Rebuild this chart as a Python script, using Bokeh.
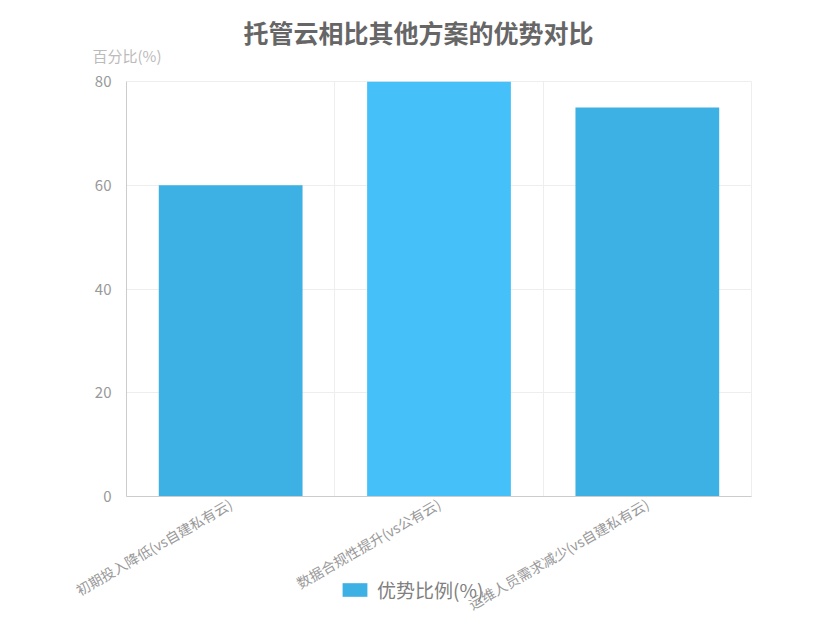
from bokeh.plotting import figure
from bokeh.layouts import column
from bokeh.models import ColumnDataSource, FixedTicker, Legend, LegendItem, Title
from bokeh.embed import file_html
from bokeh.resources import INLINE
import math

# data
categories = ["初期投入降低(vs自建私有云)", "数据合规性提升(vs公有云)", "运维人员需求减少(vs自建私有云)"]
values = [60, 80, 75]
series_name = "优势比例(%)"
title_text = "托管云相比其他方案的优势对比"
y_label = "百分比(%)"

bar_colors = ["#3db0e4", "#45c0f8", "#3db0e4"]
legend_color = "#3db0e4"
FONT = "Noto Sans CJK SC"

src = ColumnDataSource(dict(cat=categories, val=values, color=bar_colors))

p = figure(width=835, height=625, x_range=categories, y_range=(0, 80),
           output_backend="svg", toolbar_location=None, title=None,
           min_border_left=126, min_border_right=84,
           min_border_top=81, min_border_bottom=129)

r = p.vbar(x="cat", top="val", width=0.69, fill_color="color",
           line_color=None, source=src)

# y-axis name above the axis, then the main title
p.add_layout(Title(text=y_label, align="left", offset=-34, standoff=32,
                   text_font=FONT, text_font_size="15px", text_color="#bbbbbb",
                   text_font_style="normal"), "above")
p.add_layout(Title(text=title_text, align="left", offset=117, standoff=-46,
                   text_font=FONT, text_font_size="25px", text_color="#666666",
                   text_font_style="bold"), "above")

p.yaxis.ticker = FixedTicker(ticks=[0, 20, 40, 60, 80])
p.xgrid.ticker = FixedTicker(ticks=[1, 2])
p.xgrid.grid_line_color = "#eeeeee"
p.ygrid.grid_line_color = "#eeeeee"
p.outline_line_color = "#eeeeee"

for ax in (p.xaxis, p.yaxis):
    ax.major_label_text_font = FONT
    ax.major_label_text_color = "#999999"
    ax.axis_line_color = "#cccccc"
    ax.minor_tick_line_color = None

p.yaxis.major_label_text_font_size = "15px"
p.yaxis.major_tick_line_color = None
p.yaxis.major_label_standoff = 9
p.xaxis.major_tick_line_color = None
p.xaxis.major_label_text_font_size = "14px"
p.xaxis.major_label_orientation = math.pi / 6
p.xaxis.major_label_standoff = 0

# legend: a transparent strip pulled up over the bottom of the chart;
# its bars have zero width, so only the legend swatch shows
leg = figure(width=835, height=40, output_backend="svg", toolbar_location=None,
             x_range=categories, y_range=(0, 80),
             x_axis_type=None, y_axis_type=None, min_border=0,
             margin=(-52, 0, 0, 0))
leg.outline_line_color = None
leg.xgrid.visible = False
leg.ygrid.visible = False
leg.background_fill_alpha = 0
leg.border_fill_alpha = 0
lr = leg.vbar(x="cat", top="val", width=0, fill_color=legend_color,
              line_color=None, source=src)
leg.add_layout(Legend(items=[LegendItem(label=series_name, renderers=[lr])],
                      location=(213, 10), orientation="horizontal",
                      margin=0, padding=0, label_standoff=7,
                      glyph_width=31, glyph_height=17, label_text_font=FONT,
                      label_text_font_size="19px", label_text_color="#808080",
                      border_line_color=None, background_fill_alpha=0), "center")

layout = column(p, leg, spacing=0)

open("out.html", "w").write(file_html(layout, INLINE))
